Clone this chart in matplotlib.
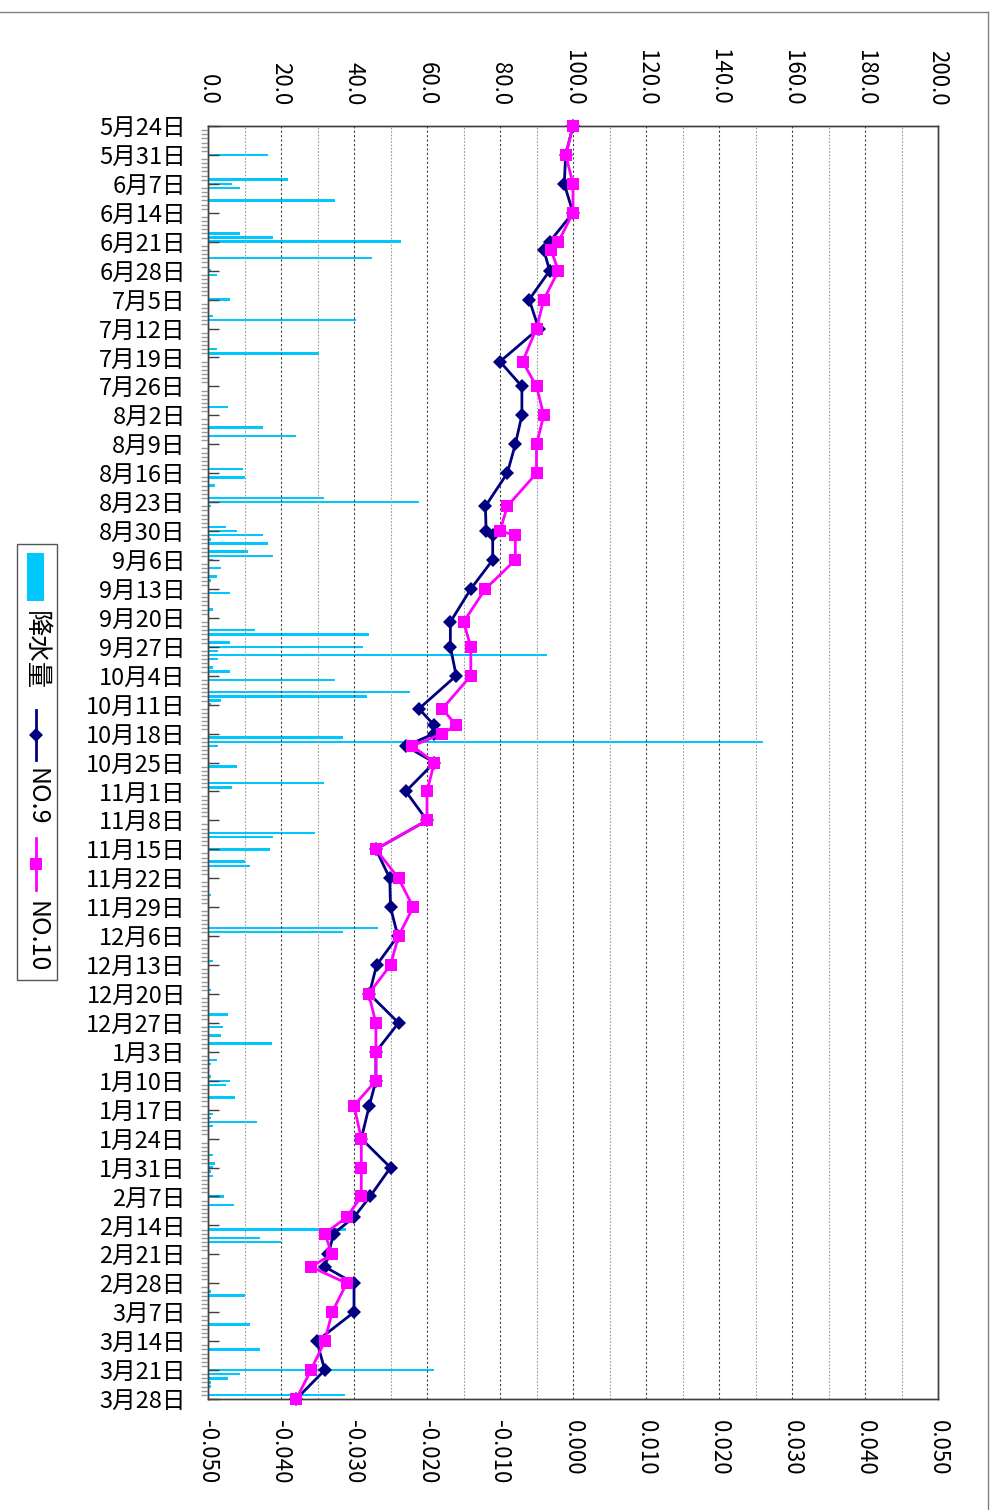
import matplotlib
matplotlib.use('Agg')
import matplotlib.pyplot as plt
from matplotlib.ticker import FixedLocator
from matplotlib.lines import Line2D
from matplotlib.patches import Rectangle

plt.rcParams['font.family'] = ['Noto Sans CJK JP', 'DejaVu Sans']

# ---------------- data ----------------
date_labels = ['5月24日', '5月31日', '6月7日', '6月14日', '6月21日', '6月28日',
               '7月5日', '7月12日', '7月19日', '7月26日', '8月2日', '8月9日',
               '8月16日', '8月23日', '8月30日', '9月6日', '9月13日', '9月20日',
               '9月27日', '10月4日', '10月11日', '10月18日', '10月25日', '11月1日',
               '11月8日', '11月15日', '11月22日', '11月29日', '12月6日', '12月13日',
               '12月20日', '12月27日', '1月3日', '1月10日', '1月17日', '1月24日',
               '1月31日', '2月7日', '2月14日', '2月21日', '2月28日', '3月7日',
               '3月14日', '3月21日', '3月28日']
label_days = [7 * i for i in range(len(date_labels))]   # days since 5月24日
n_days = 308

top_ticks = [0, 20, 40, 60, 80, 100, 120, 140, 160, 180, 200]
top_labels = ['0.0', '20.0', '40.0', '60.0', '80.0', '100.0', '120.0',
              '140.0', '160.0', '180.0', '200.0']
top_minor = [10, 30, 50, 70, 90, 110, 130, 150, 170, 190]
bottom_ticks = [-0.05, -0.04, -0.03, -0.02, -0.01, 0.0, 0.01, 0.02, 0.03, 0.04, 0.05]
bottom_labels = ['-0.050', '-0.040', '-0.030', '-0.020', '-0.010', '0.000',
                 '0.010', '0.020', '0.030', '0.040', '0.050']

# observation days (days since 5月24日)
obs_day = [0, 7, 14, 21, 28, 30, 35, 42, 49, 57, 63, 70, 77, 84, 92,
           98, 99, 105, 112, 120, 126, 133, 141, 145, 147, 150, 154, 161, 168, 175,
           182, 189, 196, 203, 210, 217, 224, 231, 237, 245, 252, 259, 264, 268, 273,
           276, 280, 287, 294, 301, 308]
no9 = [0.000, -0.001, -0.0012, 0.000, -0.0032,
       -0.004, -0.0032, -0.006, -0.0047, -0.010,
       -0.007, -0.007, -0.0079, -0.009, -0.012,
       -0.0119, -0.011, -0.011, -0.014, -0.0168,
       -0.0168, -0.016, -0.0211, -0.019, -0.019,
       -0.0229, -0.019, -0.0229, -0.020, -0.027,
       -0.0251, -0.025, -0.024, -0.0269, -0.0279,
       -0.0239, -0.027, -0.027, -0.0279, -0.029,
       -0.025, -0.0278, -0.030, -0.0328, -0.0335,
       -0.034, -0.030, -0.030, -0.0351, -0.034,
       -0.0379]
no10 = [0.000, -0.001, 0.000, 0.000, -0.002,
        -0.003, -0.002, -0.004, -0.005, -0.0069,
        -0.005, -0.004, -0.005, -0.005, -0.009,
        -0.010, -0.0079, -0.0079, -0.012, -0.015,
        -0.014, -0.014, -0.0179, -0.016, -0.0179,
        -0.022, -0.019, -0.020, -0.020, -0.027,
        -0.0239, -0.0219, -0.0239, -0.025, -0.028,
        -0.027, -0.027, -0.027, -0.030, -0.029,
        -0.029, -0.029, -0.031, -0.034, -0.033,
        -0.0359, -0.031, -0.033, -0.034, -0.0359,
        -0.0379]

# daily precipitation (days since 5月24日, mm)
rain_day = [7, 8, 13, 14, 15, 18, 26, 27, 28,
            32, 35, 36, 37, 42, 46, 47, 54, 55,
            68, 73, 75, 78, 83, 85, 87, 90, 91, 92,
            97, 98, 99, 100, 101, 103, 104, 105, 106, 107, 109, 110, 113, 117, 121, 122, 123, 125,
            126, 127, 128, 129, 131, 132, 134, 137, 138, 139, 140, 148, 149, 150, 155,
            159, 160, 171, 172, 175, 178, 179, 186,
            194, 195, 202, 203, 208, 209, 215, 218,
            220, 222, 224, 226, 227, 228, 229, 230, 231, 232, 235, 236, 239, 240, 241, 242, 249, 251,
            252, 253, 254, 255, 256, 259, 261, 267, 269, 270, 282, 283,
            290, 295, 296, 301, 302, 303, 304, 305, 307]
rain_mm = [16.5, 0.4, 21.8, 6.5, 8.9, 34.9, 8.9, 17.9, 53.0,
           44.8, 0.8, 2.4, 0.4, 5.9, 1.3, 40.5, 2.4, 30.5,
           5.4, 15.0, 24.0, 0.4, 9.5, 10.0, 1.9, 31.9, 57.8, 0.8,
           4.8, 7.9, 15.0, 0.8, 16.5, 10.9, 17.9, 1.3, 0.4, 3.5, 2.4, 0.8, 5.9, 1.3, 0.4, 13.0, 44.0, 5.9,
           42.4, 2.8, 93.0, 2.8, 1.3, 5.9, 34.9, 55.4, 43.5, 3.5, 0.8, 36.9, 152.0, 2.8, 7.9,
           31.9, 6.5, 29.4, 17.9, 17.0, 10.0, 11.4, 0.8,
           46.5, 36.9, 1.3, 0.4, 0.4, 0.8, 5.4, 4.0,
           3.5, 17.4, 0.4, 2.4, 0.8, 0.4, 0.4, 0.8, 5.9, 4.8, 7.5, 0.4, 1.3, 0.8, 13.5, 1.3, 1.3, 1.8,
           1.3, 0.8, 1.3, 0.4, 0.4, 4.3, 7.0, 37.8, 14.3, 20.0, 0.8, 10.0,
           11.4, 0.4, 14.3, 61.9, 8.9, 5.4, 0.8, 0.8, 37.4]

# ---------------- figure ----------------
W, H = 994, 1510
fig = plt.figure(figsize=(W / 100, H / 100), dpi=100)
fig.patch.set_facecolor('white')


def fx(px):
    return px / W


def fy(py):
    return 1 - py / H


L, R, T, B = 208, 938, 126, 1399
ax = fig.add_axes([fx(L), fy(B), (R - L) / W, (B - T) / H])
ax2 = ax.twiny()
ax.set_zorder(ax2.get_zorder() + 1)
ax.patch.set_visible(False)

RAIN = '#00C8FF'
NAVY = '#000080'
PINK = '#FF00FF'
SPINE = '#404040'

# precipitation bars (top axis)
ax2.barh(rain_day, rain_mm, height=0.6, color=RAIN, linewidth=0)
ax2.set_xlim(0, 200)
ax2.xaxis.set_major_locator(FixedLocator(top_ticks))
ax2.set_xticklabels(top_labels)
ax2.xaxis.set_minor_locator(FixedLocator(top_minor))
ax2.grid(which='major', axis='x', color=SPINE, linestyle=(0, (2, 2)), linewidth=0.8)
ax2.grid(which='minor', axis='x', color='#9a9a9a', linestyle=(0, (1.5, 1.5)), linewidth=0.8)
ax2.tick_params(axis='x', which='both', length=0, pad=15, labelsize=16,
                labelrotation=-90)

# displacement lines (bottom axis)
ax.plot(no9, obs_day, color=NAVY, lw=2.0, marker='D', ms=7,
        markeredgewidth=0, clip_on=False, zorder=3)
ax.plot(no10, obs_day, color=PINK, lw=2.0, marker='s', ms=8.3,
        markeredgewidth=0, clip_on=False, zorder=4)
ax.set_xlim(-0.05, 0.05)
ax.set_ylim(n_days, 0)
ax.xaxis.set_major_locator(FixedLocator(bottom_ticks))
ax.set_xticklabels(bottom_labels)
ax.tick_params(axis='x', which='both', length=0, pad=15, labelsize=16,
               labelrotation=-90)

ax.yaxis.set_major_locator(FixedLocator(label_days))
ax.set_yticklabels(date_labels)
ax.yaxis.set_minor_locator(FixedLocator(list(range(n_days + 1))))
ax.tick_params(axis='y', which='major', direction='in', length=8, width=1,
               color=SPINE, pad=16, labelsize=17)
ax.tick_params(axis='y', which='minor', direction='out', length=5, width=1,
               color='#9a9a9a')
ax2.tick_params(axis='y', which='both', left=False, right=False)

for a in (ax, ax2):
    for s in a.spines.values():
        s.set_color(SPINE)
        s.set_linewidth(1)

# ---------------- legend (rotated) ----------------
fig.patches.append(Rectangle((fx(17), fy(980)), fx(57) - fx(17), fy(544) - fy(980),
                             transform=fig.transFigure, facecolor='white',
                             edgecolor='#555555', linewidth=1))
fig.patches.append(Rectangle((fx(27), fy(601)), fx(44) - fx(27), fy(553) - fy(601),
                             transform=fig.transFigure, facecolor=RAIN,
                             edgecolor='none'))
fig.text(fx(35), fy(651), '降水量', rotation=-90, ha='center', va='center', fontsize=19)
fig.lines.append(Line2D([fx(36), fx(36)], [fy(710), fy(760)], transform=fig.transFigure,
                        color=NAVY, lw=2.0))
fig.lines.append(Line2D([fx(36)], [fy(735)], transform=fig.transFigure,
                        color=NAVY, marker='D', ms=7, markeredgewidth=0))
fig.text(fx(36), fy(797), 'NO.9', rotation=-90, ha='center', va='center', fontsize=18)
fig.lines.append(Line2D([fx(36), fx(36)], [fy(838), fy(890)], transform=fig.transFigure,
                        color=PINK, lw=2.0))
fig.lines.append(Line2D([fx(36)], [fy(864)], transform=fig.transFigure,
                        color=PINK, marker='s', ms=8.3, markeredgewidth=0))
fig.text(fx(36), fy(937), 'NO.10', rotation=-90, ha='center', va='center', fontsize=18)

# outer frame
fig.lines.append(Line2D([0, fx(988)], [fy(12), fy(12)], transform=fig.transFigure,
                        color='#808080', lw=1))
fig.lines.append(Line2D([fx(988), fx(988)], [fy(12), 0], transform=fig.transFigure,
                        color='#808080', lw=1))

fig.savefig('out.png', dpi=100)
